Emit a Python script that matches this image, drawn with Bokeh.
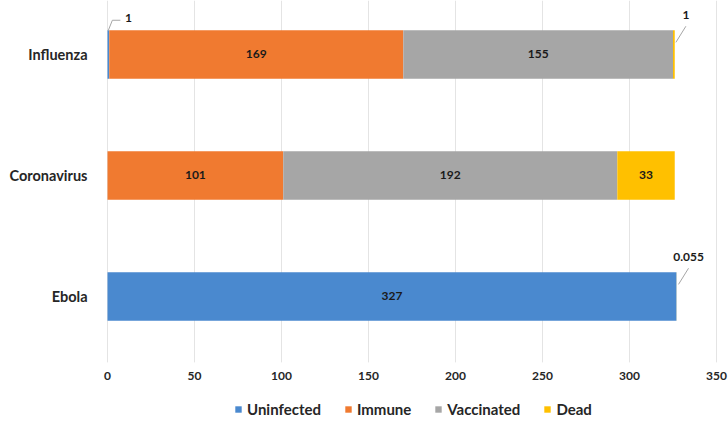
from bokeh.plotting import figure
from bokeh.models import ColumnDataSource, FixedTicker, Legend, LegendItem, Range1d
from bokeh.embed import file_html
from bokeh.resources import INLINE
from bokeh.core.properties import value

# ---- data ----
diseases = ["Ebola", "Coronavirus", "Influenza"]
series = ["Uninfected", "Immune", "Vaccinated", "Dead"]
uninfected = [327, 0, 1]
immune = [0, 101, 169]
vaccinated = [0, 192, 155]
dead = [0.055, 33, 1]
x_ticks = [0, 50, 100, 150, 200, 250, 300, 350]

# ---- style ----
colors = ["#4A89CF", "#F07A30", "#A6A6A6", "#FFC000"]
FONT_NAME = "Lato"
FONT = value(FONT_NAME)
W, H = 728, 427
BL, BR = 95, 0
PX_PER_UNIT = 1.74
X0 = -(107 - BL) / PX_PER_UNIT
X1 = (W - BR - BL) / PX_PER_UNIT + X0
Y0, Y1 = -1.083, 2.446
AXIS_Y = -0.545
BAR_H = 0.4

ypos = list(range(len(diseases)))
values = [uninfected, immune, vaccinated, dead]

src = ColumnDataSource(dict(y=ypos, **{s: v for s, v in zip(series, values)}))

p = figure(width=W, height=H, output_backend="svg", toolbar_location=None,
           x_range=Range1d(X0, X1), y_range=Range1d(Y0, Y1),
           min_border_left=BL, min_border_right=BR, min_border_top=0,
           min_border_bottom=0)

# vertical grid lines (only across the plotting area)
p.segment(x0=x_ticks, y0=[AXIS_Y] * len(x_ticks), x1=x_ticks,
          y1=[Y1] * len(x_ticks), line_color="#E4E4E4", line_width=1)

rs = p.hbar_stack(series, y="y", height=BAR_H, fill_color=colors,
                  line_color=None, source=src)

# pixel -> data conversions
xpx = (X1 - X0) / (W - BL - BR)
ypx = (Y1 - Y0) / H

in_x, in_y, in_t = [], [], []
co_x, co_y, co_t = [], [], []
lx, ly = [], []
for i, yc in enumerate(ypos):
    left = 0.0
    top = yc + BAR_H / 2
    for vals in values:
        v = vals[i]
        c = left + v / 2
        txt = f"{v:g}"
        if v >= 10:
            in_x.append(c); in_y.append(yc); in_t.append(txt)
        elif v > 0:
            co_t.append(txt)
            if left == 0:
                co_x.append(c + 20 * xpx); co_y.append(top + 12 * ypx)
                lx.append([c, c + 4 * xpx, c + 12 * xpx])
                ly.append([top, top + 10 * ypx, top + 10 * ypx])
            else:
                co_x.append(c + 12 * xpx); co_y.append(top + 15 * ypx)
                lx.append([c + 2 * xpx, c + 12 * xpx])
                ly.append([yc + 0.1, top + 4 * ypx])
        left += v

p.multi_line(xs=lx, ys=ly, line_color="#A6A6A6", line_width=1)

p.text(x=in_x, y=in_y, text=in_t, text_align="center", text_baseline="middle",
       text_font=FONT, text_font_style="bold", text_font_size="12px",
       text_color="#1a1a1a")
p.text(x=co_x, y=co_y, text=co_t, text_align="center", text_baseline="middle",
       text_font=FONT, text_font_style="bold", text_font_size="12px",
       text_color="#1a1a1a")

# axes
p.outline_line_color = None
p.xgrid.visible = False
p.ygrid.visible = False

p.xaxis.ticker = FixedTicker(ticks=x_ticks)
p.xaxis.fixed_location = AXIS_Y
p.yaxis.ticker = FixedTicker(ticks=ypos)
p.yaxis.major_label_overrides = {i: d for i, d in zip(ypos, diseases)}
for ax in (p.xaxis, p.yaxis):
    ax.axis_line_color = None
    ax.major_tick_line_color = None
    ax.minor_tick_line_color = None
    ax.major_label_text_font = FONT_NAME
    ax.major_label_text_font_style = "bold"
    ax.major_label_text_color = "#262626"
p.xaxis.major_label_text_font_size = "12px"
p.xaxis.major_label_standoff = 4
p.yaxis.major_label_text_font_size = "14.5px"
p.yaxis.major_label_standoff = 14 - (107 - BL)

legend = Legend(items=[LegendItem(label=s, renderers=[r]) for s, r in zip(series, rs)],
                orientation="horizontal", location=(139, 9),
                border_line_color=None, background_fill_alpha=0,
                glyph_width=8, glyph_height=8, label_standoff=5, spacing=23,
                padding=0, margin=0, label_height=16,
                label_text_font=FONT_NAME, label_text_font_style="bold",
                label_text_font_size="15px", label_text_color="#262626")
p.add_layout(legend, "center")

open("out.html", "w").write(file_html(p, INLINE))
